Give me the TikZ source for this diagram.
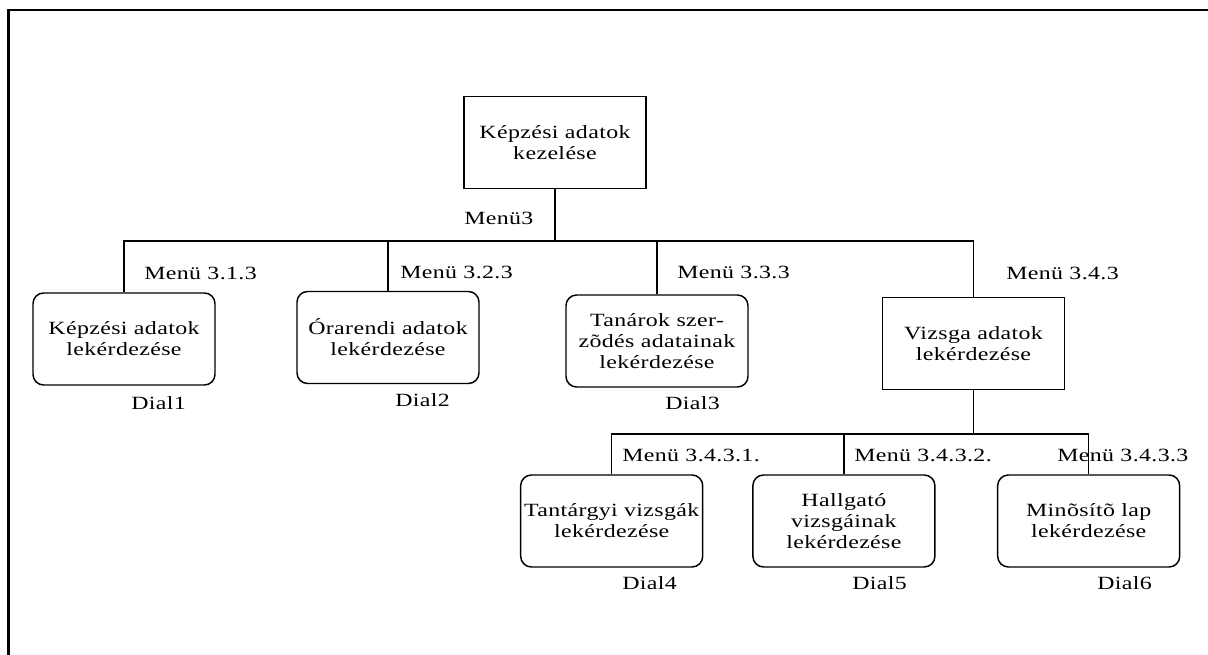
\documentclass[tikz,border=0pt]{standalone}
\usepackage{fontspec}
\setmainfont{Liberation Serif}[FakeStretch=1.28,LetterSpace=2]
\usetikzlibrary{positioning}
\tikzset{
  menubox/.style={draw, line width=1.1pt, rounded corners=8pt, minimum width=136.5pt, minimum height=69pt, inner sep=0pt, align=center, font=\fontsize{14}{15.75}\selectfont},
  sqbox/.style={menubox, sharp corners},
  lbl/.style={anchor=base west, inner sep=0pt, font=\fontsize{14}{15.75}\selectfont},
  conn/.style={line width=0.9pt},
  trunk/.style={line width=1.3pt},
}

\begin{document}
\begin{tikzpicture}[x=0.75pt,y=-0.75pt]

\useasboundingbox (0,0) rectangle (1208,655);
\draw[line width=1.9pt] (8.5,655) |- (1208,10);

\node[sqbox](top) at (555,142.5) {Képzési adatok\\kezelése};

\node[menubox](b1) at (124,339) {Képzési adatok\\lekérdezése};
\node[menubox](b2) at (388,337.5) {Órarendi adatok\\lekérdezése};
\node[menubox](b3) at (657,341) {Tanárok szer-\\zõdés adatainak\\lekérdezése};
\node[sqbox](b4) at (973.5,343.5) {Vizsga adatok\\lekérdezése};

\node[menubox](b5) at (611.7,521) {Tantárgyi vizsgák\\lekérdezése};
\node[menubox](b6) at (843.9,521) {Hallgató\\vizsgáinak\\lekérdezése};
\node[menubox](b7) at (1088.7,521) {Minõsítõ lap\\lekérdezése};

\coordinate (bus1) at (555,241);
\draw[trunk] (top.south) -- (top.south |- bus1);
\draw[conn] (b1.north) |- (bus1 -| b4.north) -- (b4.north);
\draw[conn] (b2.north) -- (b2.north |- bus1);
\draw[conn] (b3.north) -- (b3.north |- bus1);

\coordinate (bus2) at (973.5,434);
\draw[trunk] (b4.south) -- (b4.south |- bus2);
\draw[conn] (b5.north) |- (bus2 -| b7.north) -- (b7.north);
\draw[conn] (b6.north) -- (b6.north |- bus2);

\node[lbl](m3) at (464,225) {Menü3};
\node[lbl](m31) at (144,280) {Menü 3.1.3};
\node[lbl](m32) at (400,279) {Menü 3.2.3};
\node[lbl](m33) at (677,279) {Menü 3.3.3};
\node[lbl](m34) at (1006,280) {Menü 3.4.3};
\node[lbl](m341) at (622,462) {Menü 3.4.3.1.};
\node[lbl](m342) at (854,462) {Menü 3.4.3.2.};
\node[lbl](m343) at (1057,462) {Menü 3.4.3.3};

\node[lbl](d1) at (131,410) {Dial1};
\node[lbl](d2) at (395,407) {Dial2};
\node[lbl](d3) at (665,410) {Dial3};
\node[lbl](d4) at (622,590) {Dial4};
\node[lbl](d5) at (852,590) {Dial5};
\node[lbl](d6) at (1097,590) {Dial6};

\end{tikzpicture}
\end{document}
